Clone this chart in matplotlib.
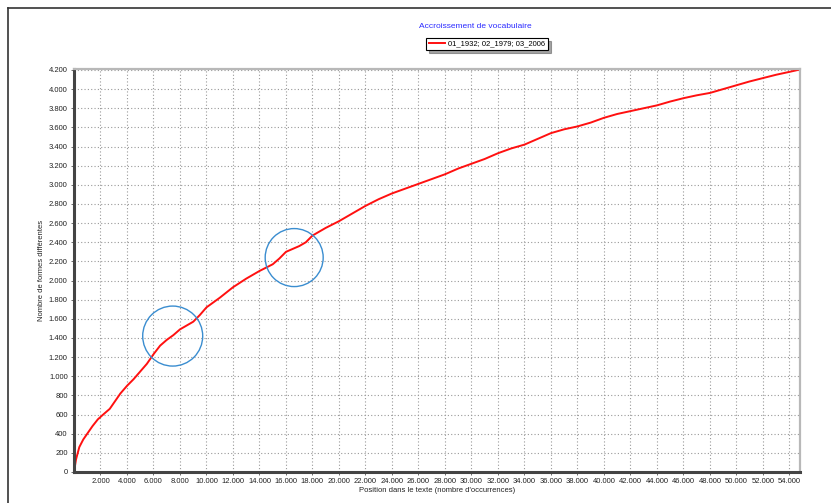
import numpy as np
import matplotlib
matplotlib.use('Agg')
import matplotlib.pyplot as plt
from matplotlib.patches import Ellipse
from matplotlib.lines import Line2D
from matplotlib.ticker import FuncFormatter

plt.rcParams['font.family'] = ['Liberation Sans', 'DejaVu Sans']

# vocabulary growth: position in text vs number of distinct forms
position = [0, 150, 400, 700, 1000, 1400, 1800, 2200, 2700, 3100, 3500, 4000,
            4500, 5000, 5500, 6000, 6500, 7000, 7500, 8000, 8500, 9000, 9500,
            10000, 11000, 12000, 13000, 14000, 15000, 15500, 16000, 17000,
            17500, 18000, 19000, 20000, 21000, 22000, 23000, 24000, 25000,
            26000, 27000, 28000, 29000, 30000, 31000, 32000, 33000, 34000,
            35000, 36000, 37000, 38000, 39000, 40000, 41000, 42000, 43000,
            44000, 45000, 46000, 47000, 48000, 49000, 50000, 51000, 52000,
            53000, 54000, 54800]
formes = [0, 130, 260, 340, 400, 480, 550, 600, 660, 740, 820, 900,
          970, 1050, 1130, 1230, 1320, 1380, 1430, 1490, 1530, 1570, 1640,
          1720, 1820, 1930, 2020, 2100, 2170, 2230, 2300, 2360,
          2400, 2470, 2550, 2620, 2700, 2780, 2850, 2910, 2960,
          3010, 3060, 3110, 3170, 3220, 3270, 3330, 3380, 3420,
          3480, 3540, 3580, 3610, 3650, 3700, 3740, 3770, 3800,
          3830, 3870, 3905, 3935, 3960, 4000, 4040, 4080, 4115,
          4150, 4180, 4205]
serie_label = '01_1932; 02_1979; 03_2006'

# highlighted zones (centre x, centre y)
zones = [(7450, 1420), (16620, 2240)]

x_ticks = np.arange(2000, 54001, 2000)
y_ticks = np.arange(0, 4201, 200)

fig = plt.figure(figsize=(8.31, 5.03), dpi=100)
ax = fig.add_axes([74 / 831, 1 - 472 / 503, 726 / 831, 403 / 503])

ax.plot(position, formes, color='#ff1010', lw=1.4, label=serie_label)

# circles drawn as ellipses so they stay round on screen
x_max, y_max = 54800, 4210
px_x = 726 / x_max
px_y = 403 / y_max
for (cx, cy), r in zip(zones, [30, 29]):
    ax.add_patch(Ellipse((cx, cy), 2 * r / px_x, 2 * r / px_y, fill=False,
                         edgecolor='#3a8dd0', lw=1.0, zorder=5))

ax.set_xlim(0, x_max)
ax.set_ylim(0, y_max)
ax.set_xticks(x_ticks)
ax.set_yticks(y_ticks)
fmt = FuncFormatter(lambda v, p: '{:,.0f}'.format(v).replace(',', '.'))
ax.xaxis.set_major_formatter(fmt)
ax.yaxis.set_major_formatter(fmt)
ax.tick_params(labelsize=5.5, length=2.5, width=0.6, color='#555555', labelcolor='#222222', pad=2)
ax.grid(True, color='#999999', ls=(0, (1, 2)), lw=0.8)

for s in ['left', 'bottom']:
    ax.spines[s].set_color('#444444')
    ax.spines[s].set_linewidth(2.2)
for s in ['right', 'top']:
    ax.spines[s].set_color('#b8b8b8')
    ax.spines[s].set_linewidth(1.6)

ax.set_xlabel("Position dans le texte (nombre d'occurrences)", fontsize=5.5, labelpad=1, color='#222222')
ax.set_ylabel('Nombre de formes différentes', fontsize=5.5, labelpad=3, color='#222222')

fig.text(475 / 831, 1 - 26 / 503, 'Accroissement de vocabulaire', color='#2b2bff',
         fontsize=6, ha='center', va='center')
leg = ax.legend(loc='center', bbox_to_anchor=(487 / 831, 1 - 44 / 503),
                bbox_transform=fig.transFigure, fontsize=5.5, frameon=True,
                fancybox=False, shadow=True, handlelength=2.2, borderpad=0.3,
                handletextpad=0.4)
leg.get_frame().set_edgecolor('black')
leg.get_frame().set_linewidth(0.8)

# window frame
fig.add_artist(Line2D([8 / 831, 8 / 831], [0, 1 - 8 / 503], color='#333333', lw=1.2))
fig.add_artist(Line2D([8 / 831, 1], [1 - 8 / 503, 1 - 8 / 503], color='#333333', lw=1.2))

fig.savefig('out.png', dpi=100)
